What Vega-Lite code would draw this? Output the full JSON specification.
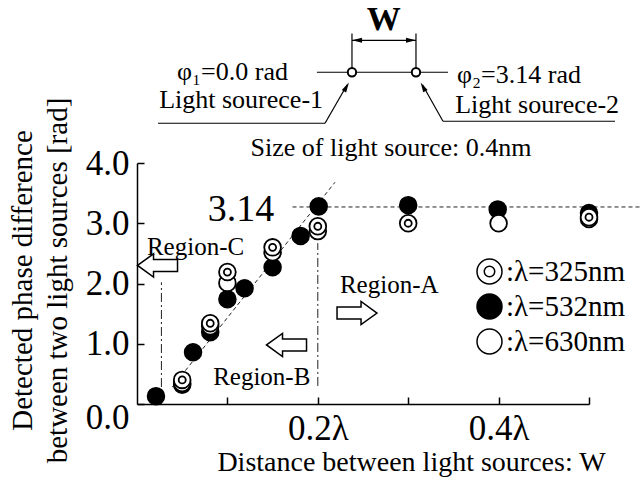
{
  "$schema": "https://vega.github.io/schema/vega-lite/v6.json",
  "width": 452,
  "height": 241,
  "autosize": {"type": "none"},
  "padding": {"left": 137, "top": 163, "right": 51, "bottom": 75},
  "background": "white",
  "config": {
    "view": {"stroke": null},
    "font": "Liberation Serif",
    "text": {"font": "Liberation Serif", "color": "black"},
    "axis": {"labelFont": "Liberation Serif", "titleFont": "Liberation Serif"},
    "legend": {"labelFont": "Liberation Serif", "labelFontSize": 29, "labelColor": "black"}
  },
  "encoding": {
    "x": {
      "field": "x", "type": "quantitative",
      "scale": {"domain": [0, 0.5], "nice": false, "zero": false},
      "axis": {
        "values": [0.1, 0.2, 0.3, 0.4, 0.5],
        "format": ".1f",
        "labelExpr": "datum.label == '0.2' || datum.label == '0.4' ? datum.label + 'λ' : ''",
        "grid": false,
        "tickSize": -7, "tickWidth": 1.5, "tickColor": "black",
        "domainColor": "black", "domainWidth": 1.5,
        "labelFont": "Liberation Serif", "labelFontSize": 35, "labelColor": "black",
        "labelPadding": 14, "labelOverlap": false, "labelFlush": false,
        "title": "Distance between light sources: W",
        "titleFont": "Liberation Serif", "titleFontSize": 28, "titleFontWeight": "normal", "titleColor": "black",
        "titleX": 274, "titleY": 66, "titleAlign": "center", "titleBaseline": "alphabetic"
      }
    },
    "y": {
      "field": "y", "type": "quantitative",
      "scale": {"domain": [0, 4], "nice": false},
      "axis": {
        "values": [0, 1, 2, 3, 4],
        "format": ".1f",
        "grid": false,
        "tickSize": -7, "tickWidth": 1.5, "tickColor": "black",
        "domainColor": "black", "domainWidth": 1.5,
        "labelFont": "Liberation Serif", "labelFontSize": 35, "labelColor": "black",
        "labelPadding": 15, "labelOverlap": false, "labelFlush": false,
        "labelOffset": {"condition": {"test": "datum.value === 0", "value": 13}, "value": 0},
        "title": ["Detected phase difference", "between two light sources [rad]"],
        "titleFont": "Liberation Serif", "titleFontSize": 29, "titleFontWeight": "normal", "titleColor": "black",
        "titleAngle": -90, "titleX": -115, "titleY": 117, "titleAlign": "center", "titleBaseline": "middle",
        "titleLineHeight": 35
      }
    }
  },
  "layer": [
    {
      "data": {"values": [
        {"x": 0.039, "y": 0.28, "x2": 0.219, "y2": 3.68},
        {"x": 0.172, "y": 3.27, "x2": 0.556, "y2": 3.27}
      ]},
      "mark": {"type": "rule", "color": "#222", "strokeWidth": 1, "strokeDash": [4, 3]},
      "encoding": {"x2": {"field": "x2"}, "y2": {"field": "y2"}}
    },
    {
      "data": {"values": [
        {"x": 0.027, "y": 0.0, "x2": 0.027, "y2": 2.02},
        {"x": 0.2, "y": 0.3, "x2": 0.2, "y2": 2.67}
      ]},
      "mark": {"type": "rule", "color": "#222", "strokeWidth": 1, "strokeDash": [9, 3, 2, 3]},
      "encoding": {"x2": {"field": "x2"}, "y2": {"field": "y2"}}
    },
    {
      "data": {"values": [
        {"x": 0.199, "y": 5.506, "x2": 0.344, "y2": 5.506},
        {"x": 0.2378, "y": 6.15, "x2": 0.2378, "y2": 5.506},
        {"x": 0.3086, "y": 6.15, "x2": 0.3086, "y2": 5.506},
        {"x": 0.2378, "y": 6.036, "x2": 0.3086, "y2": 6.036},
        {"x": 0.0232, "y": 4.66, "x2": 0.208, "y2": 4.66},
        {"x": 0.208, "y": 4.66, "x2": 0.2325, "y2": 5.3},
        {"x": 0.3385, "y": 4.693, "x2": 0.5288, "y2": 4.693},
        {"x": 0.3385, "y": 4.693, "x2": 0.3158, "y2": 5.3}
      ]},
      "mark": {"type": "rule", "color": "black", "strokeWidth": 1.2},
      "encoding": {"x2": {"field": "x2"}, "y2": {"field": "y2"}}
    },
    {
      "data": {"values": [{"x": 0.2434, "y": 6.036}]},
      "mark": {"type": "point", "shape": "M-1,0L1,-0.5L1,0.5Z", "size": 100, "filled": true, "color": "black", "opacity": 1}
    },
    {
      "data": {"values": [{"x": 0.3031, "y": 6.036}]},
      "mark": {"type": "point", "shape": "M1,0L-1,-0.5L-1,0.5Z", "size": 100, "filled": true, "color": "black", "opacity": 1}
    },
    {
      "data": {"values": [{"x": 0.2317, "y": 5.264}]},
      "mark": {"type": "point", "shape": "M0,-1L0.5,1L-0.5,1Z", "angle": 30, "size": 100, "filled": true, "color": "black", "opacity": 1}
    },
    {
      "data": {"values": [{"x": 0.3164, "y": 5.265}]},
      "mark": {"type": "point", "shape": "M0,-1L0.5,1L-0.5,1Z", "angle": 331, "size": 100, "filled": true, "color": "black", "opacity": 1}
    },
    {
      "data": {"values": [{"x": 0.2378, "y": 5.506}, {"x": 0.3086, "y": 5.506}]},
      "mark": {"type": "point", "shape": "circle", "size": 70, "fill": "white", "stroke": "black", "strokeWidth": 2, "opacity": 1}
    },
    {
      "data": {"values": [{"x": 0.0227, "y": 2.3}, {"x": 0.1654, "y": 0.98}]},
      "mark": {"type": "point", "shape": "M-1,0L-0.2,-0.58L-0.2,-0.3L1,-0.3L1,0.3L-0.2,0.3L-0.2,0.58Z", "size": 1600, "fill": "white", "stroke": "black", "strokeWidth": 1.5, "opacity": 1}
    },
    {
      "data": {"values": [{"x": 0.2434, "y": 1.51}]},
      "mark": {"type": "point", "shape": "M1,0L0.2,-0.58L0.2,-0.3L-1,-0.3L-1,0.3L0.2,0.3L0.2,0.58Z", "size": 1600, "fill": "white", "stroke": "black", "strokeWidth": 1.5, "opacity": 1}
    },
    {
      "data": {"values": [
        {"x": 0.021, "y": 0.13, "wl": "532"},
        {"x": 0.050, "y": 0.32, "wl": "532"},
        {"x": 0.062, "y": 0.86, "wl": "532"},
        {"x": 0.081, "y": 1.19, "wl": "532"},
        {"x": 0.100, "y": 1.74, "wl": "532"},
        {"x": 0.119, "y": 1.92, "wl": "532"},
        {"x": 0.150, "y": 2.27, "wl": "532"},
        {"x": 0.181, "y": 2.79, "wl": "532"},
        {"x": 0.201, "y": 3.28, "wl": "532"},
        {"x": 0.300, "y": 3.30, "wl": "532"},
        {"x": 0.399, "y": 3.23, "wl": "532"},
        {"x": 0.500, "y": 3.17, "wl": "532"},
        {"x": 0.050, "y": 0.35, "wl": "630"},
        {"x": 0.081, "y": 1.29, "wl": "630"},
        {"x": 0.100, "y": 2.01, "wl": "630"},
        {"x": 0.150, "y": 2.52, "wl": "630"},
        {"x": 0.200, "y": 2.87, "wl": "630"},
        {"x": 0.400, "y": 3.00, "wl": "630"},
        {"x": 0.500, "y": 3.07, "wl": "630"},
        {"x": 0.050, "y": 0.40, "wl": "325"},
        {"x": 0.081, "y": 1.34, "wl": "325"},
        {"x": 0.100, "y": 2.19, "wl": "325"},
        {"x": 0.150, "y": 2.60, "wl": "325"},
        {"x": 0.200, "y": 2.95, "wl": "325"},
        {"x": 0.300, "y": 3.00, "wl": "325"},
        {"x": 0.500, "y": 3.10, "wl": "325"}
      ]},
      "mark": {"type": "point", "filled": true, "stroke": "black", "strokeWidth": 1.8, "size": 280, "opacity": 1},
      "encoding": {
        "shape": {
          "field": "wl", "type": "nominal",
          "scale": {"domain": ["325", "532", "630"], "range": ["M-1,0A1,1,0,1,0,1,0A1,1,0,1,0,-1,0ZM-0.42,0A0.42,0.42,0,1,0,0.42,0A0.42,0.42,0,1,0,-0.42,0Z", "circle", "circle"]},
          "legend": {
            "orient": "none", "legendX": 338, "legendY": 94, "title": null,
            "symbolSize": 625,
            "labelFont": "Liberation Serif", "labelFontSize": 29, "labelColor": "black", "labelOffset": 2,
            "rowPadding": 4,
            "labelExpr": "':λ=' + datum.label + 'nm'",
            "encode": {"symbols": {"update": {"stroke": {"value": "black"}, "strokeWidth": {"value": 2.2}, "opacity": {"value": 1}}}}
          }
        },
        "fill": {
          "field": "wl", "type": "nominal",
          "scale": {"domain": ["325", "532", "630"], "range": ["white", "black", "white"]},
          "legend": {
            "orient": "none", "legendX": 338, "legendY": 94, "title": null,
            "symbolSize": 625,
            "labelFont": "Liberation Serif", "labelFontSize": 29, "labelColor": "black", "labelOffset": 2,
            "rowPadding": 4,
            "labelExpr": "':λ=' + datum.label + 'nm'",
            "encode": {"symbols": {"update": {"stroke": {"value": "black"}, "strokeWidth": {"value": 2.2}, "opacity": {"value": 1}}}}
          }
        }
      }
    },
    {
      "data": {"values": [
        {"x": 0.0443, "y": 5.506, "t": "φ₁=0.0 rad"},
        {"x": 0.354, "y": 5.456, "t": "φ₂=3.14 rad"},
        {"x": 0.352, "y": 4.96, "t": "Light sourece-2"}
      ]},
      "mark": {"type": "text", "fontSize": 26, "align": "left", "baseline": "middle"},
      "encoding": {"text": {"field": "t"}}
    },
    {
      "data": {"values": [{"x": 0.2058, "y": 5.04, "t": "Light sourece-1"}]},
      "mark": {"type": "text", "fontSize": 26, "align": "right", "baseline": "middle"},
      "encoding": {"text": {"field": "t"}}
    },
    {
      "data": {"values": [{"x": 0.281, "y": 4.245, "t": "Size of light source: 0.4nm"}]},
      "mark": {"type": "text", "fontSize": 26, "align": "center", "baseline": "middle"},
      "encoding": {"text": {"field": "t"}}
    },
    {
      "data": {"values": [{"x": 0.011, "y": 2.6, "t": "Region-C"}]},
      "mark": {"type": "text", "fontSize": 25, "align": "left", "baseline": "middle"},
      "encoding": {"text": {"field": "t"}}
    },
    {
      "data": {"values": [
        {"x": 0.138, "y": 0.45, "t": "Region-B"},
        {"x": 0.279, "y": 1.97, "t": "Region-A"}
      ]},
      "mark": {"type": "text", "fontSize": 25, "align": "center", "baseline": "middle"},
      "encoding": {"text": {"field": "t"}}
    },
    {
      "data": {"values": [{"x": 0.115, "y": 3.22, "t": "3.14"}]},
      "mark": {"type": "text", "fontSize": 38, "align": "center", "baseline": "middle"},
      "encoding": {"text": {"field": "t"}}
    },
    {
      "data": {"values": [{"x": 0.273, "y": 6.38, "t": "W"}]},
      "mark": {"type": "text", "fontSize": 34, "fontWeight": "bold", "align": "center", "baseline": "middle"},
      "encoding": {"text": {"field": "t"}}
    }
  ]
}
